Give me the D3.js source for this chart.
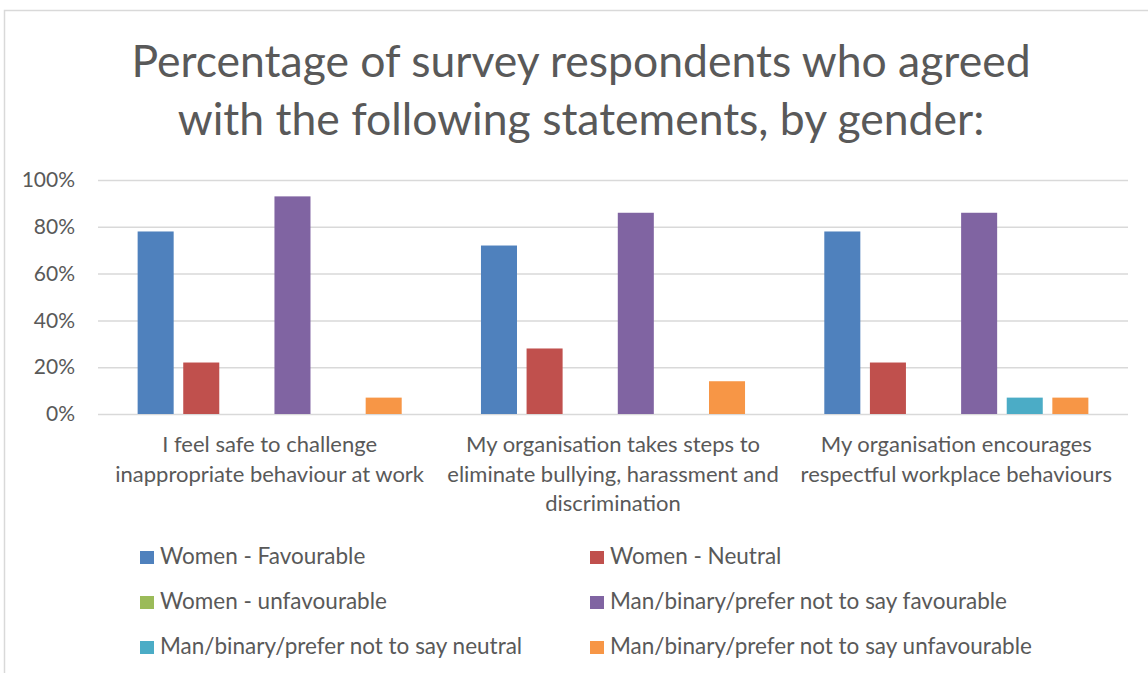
<!DOCTYPE html>
<html>
<head>
<meta charset="utf-8">
<script src="https://cdn.jsdelivr.net/npm/d3@7"></script>
<style>
  body { margin: 0; background: #fff; }
  svg { display: block; }
  text { font-family: Lato, "Open Sans", sans-serif; fill: #595959; }
</style>
</head>
<body>
<svg id="chart" width="1148" height="673"></svg>
<script>
// Survey statements (x categories) and how each label wraps
const categories = [
  "I feel safe to challenge inappropriate behaviour at work",
  "My organisation takes steps to eliminate bullying, harassment and discrimination",
  "My organisation encourages respectful workplace behaviours"
];
const categoryLines = [
  ["I feel safe to challenge", "inappropriate behaviour at work"],
  ["My organisation takes steps to", "eliminate bullying, harassment and", "discrimination"],
  ["My organisation encourages", "respectful workplace behaviours"]
];

// Series names in legend order
const seriesNames = [
  "Women - Favourable",
  "Women - Neutral",
  "Women - unfavourable",
  "Man/binary/prefer not to say favourable",
  "Man/binary/prefer not to say neutral",
  "Man/binary/prefer not to say unfavourable"
];
const seriesColors = ["#4F81BD", "#C0504D", "#9BBB59", "#8064A2", "#4BACC6", "#F79646"];

// Percentages per statement, one array per series
const womenFavourable = [78, 72, 78];
const womenNeutral = [22, 28, 22];
const womenUnfavourable = [0, 0, 0];
const otherFavourable = [93, 86, 86];
const otherNeutral = [0, 0, 7];
const otherUnfavourable = [7, 14, 7];
const seriesValues = [womenFavourable, womenNeutral, womenUnfavourable,
                      otherFavourable, otherNeutral, otherUnfavourable];

const yTicks = [0, 20, 40, 60, 80, 100];
const titleLines = ["Percentage of survey respondents who agreed",
                    "with the following statements, by gender:"];

const svg = d3.select("#chart");
const W = 1148, H = 673;
const plot = { left: 98, right: 1128, top: 180, bottom: 414 };

// Outer chart frame
svg.append("rect")
  .attr("x", 4.5).attr("y", 10.5)
  .attr("width", W + 20).attr("height", H + 20)
  .attr("fill", "#fff").attr("stroke", "#d9d9d9").attr("stroke-width", 1.5);

// Title
svg.append("g").selectAll("text").data(titleLines).join("text")
  .attr("x", 581).attr("y", (d, i) => 77 + i * 58)
  .attr("text-anchor", "middle")
  .style("font-size", "44.5px")
  .text(d => d);

// Scales
const y = d3.scaleLinear().domain([0, 100]).range([plot.bottom, plot.top]);
const x0 = d3.scaleBand().domain(categories).range([plot.left, plot.right]).padding(0);
const x1 = d3.scaleBand().domain(seriesNames).range([0, x0.bandwidth()])
  .paddingInner(0.21).paddingOuter(0.869);

// Gridlines + y tick labels
const yAxis = svg.append("g")
  .attr("transform", `translate(${plot.left},0)`)
  .call(d3.axisLeft(y).tickValues(yTicks).tickFormat(d => d + "%")
    .tickSize(-(plot.right - plot.left)).tickPadding(23));
yAxis.select(".domain").remove();
yAxis.selectAll(".tick line").attr("stroke", "#d9d9d9").attr("stroke-width", 1.5);
yAxis.selectAll(".tick text")
  .style("font-size", "21px").style("font-family", "Lato, 'Open Sans', sans-serif")
  .attr("fill", "#595959");

// Bars
const groups = svg.append("g").selectAll("g").data(categories).join("g")
  .attr("transform", d => `translate(${x0(d)},0)`);
groups.selectAll("rect")
  .data((c, ci) => seriesNames.map((s, si) => ({ s, si, v: seriesValues[si][ci] })))
  .join("rect")
  .attr("x", d => x1(d.s))
  .attr("y", d => y(d.v))
  .attr("width", x1.bandwidth())
  .attr("height", d => y(0) - y(d.v))
  .attr("fill", d => seriesColors[d.si]);

// Category labels
const xl = svg.append("g").selectAll("text").data(categories).join("text")
  .attr("text-anchor", "middle")
  .style("font-size", "22px");
xl.each(function (d, i) {
  const cx = x0(d) + x0.bandwidth() / 2;
  d3.select(this).selectAll("tspan").data(categoryLines[i]).join("tspan")
    .attr("x", cx).attr("y", (t, j) => 452 + j * 29.5)
    .text(t => t);
});

// Legend: two columns, three rows
const legend = svg.append("g").selectAll("g").data(seriesNames).join("g")
  .attr("transform", (d, i) => `translate(${i % 2 === 0 ? 140 : 590},${551 + Math.floor(i / 2) * 45})`);
legend.append("rect")
  .attr("width", 14).attr("height", 13)
  .attr("fill", (d, i) => seriesColors[i]);
legend.append("text")
  .attr("x", 20).attr("y", 13)
  .style("font-size", "22.5px")
  .text(d => d);
</script>
</body>
</html>
